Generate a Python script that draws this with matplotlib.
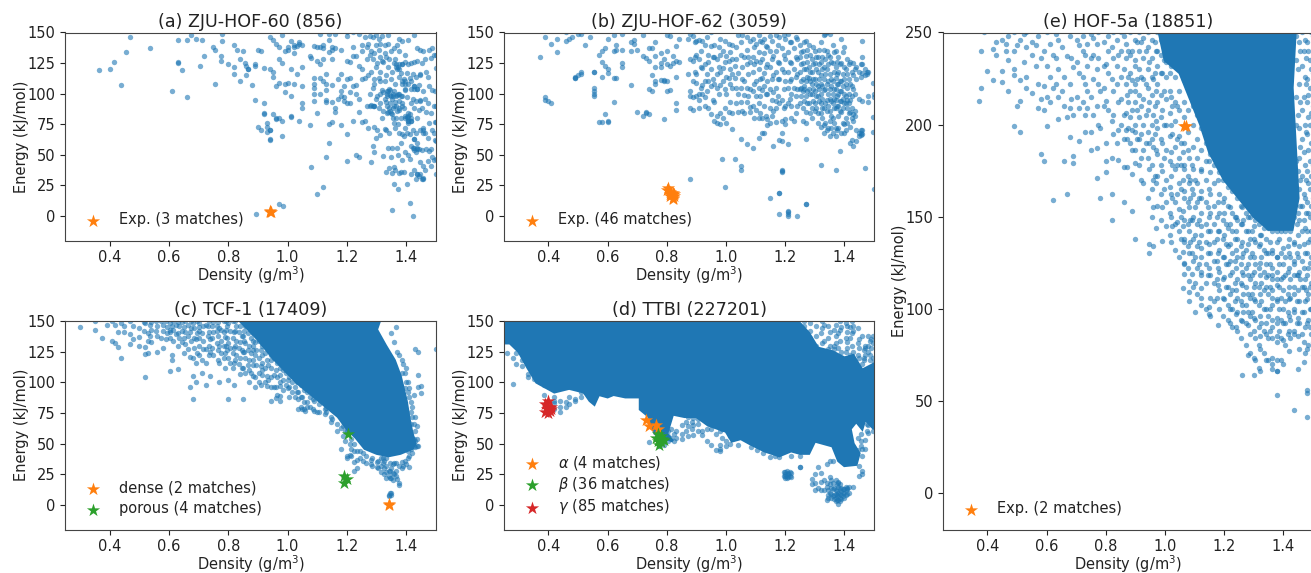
import matplotlib
matplotlib.use("Agg")
import matplotlib.pyplot as plt

# Values: {density: [energies]}.
# The saturated blobs in (c), (d), (e) are drawn as filled outlines.
a_points = {
0.365:[119],0.40:[120],0.415:[126],0.44:[107],0.455:[134],0.47:[146],0.535:[137],0.61:[102],0.63:[144,126,125],0.645:[119],
0.66:[144,97],0.675:[148],0.69:[145],0.705:[123],0.71:[144],0.72:[131],0.75:[138],0.755:[136,108],0.775:[131,127],0.78:[143,149],
0.80:[124],0.82:[140,122,116],0.83:[136],0.84:[128,110],0.85:[135],0.855:[125],0.86:[123,115],0.865:[120,120],0.88:[107],0.89:[95,124,123],
0.895:[2],0.90:[136,73],0.91:[135,70],0.92:[121,92,84,83],0.93:[76,73,69],0.94:[146,120,70,70,63,62],0.95:[144,118,83,114],
0.96:[79,106,141,80],0.97:[80,128,109,138,10],0.98:[148,125,65,78],0.985:[8],0.99:[135,108,101],1.0:[136,109,138],1.01:[143,98,120,82,81],
1.02:[140,108,133,138],1.03:[116,139],1.04:[142,78,141],1.05:[140,122,106,88,92],1.075:[74,131],1.08:[40,129],1.09:[139,108,113,105,100,94],
1.10:[18,84,127,138],1.11:[100,113,124,149,138],1.12:[24,137,110,128,140],1.13:[48,95,93,103,108,116],1.14:[75,60,134,144,149],
1.15:[77,93,107,136,138,128],1.16:[85,88,137,149],1.17:[96,112],1.18:[102,116,74,136,98],1.19:[97,94,106],1.20:[45,67,92,112,127,147,150],
1.21:[92,101,113,126],1.22:[78,106,131,150,138],1.23:[50,100,107,131],1.24:[48,96,85,123,149],1.25:[77,112,140,120,135],
1.262:[78,113,146],1.267:[90,138,128],1.272:[72,115,141],1.277:[90,132,147,100],1.282:[44,91,118,135],1.287:[57,90,105,128,146],1.292:[52,73,108,133],1.297:[64,96,122,140,148],
1.302:[70,98,125],1.307:[88,113,136,145],1.312:[66,92,118,141],1.317:[80,103,127,147],1.322:[49,86,101,126],1.327:[71,96,110,133,140],1.332:[36,70,93,115,130],1.337:[56,85,102,122,141,148],
1.342:[39,68,88,104,128],1.347:[48,84,98,112,135],1.352:[5,35,56,83,96,118],1.357:[26,40,76,90,102,125,137],1.362:[38,72,93,108,128],1.367:[56,86,99,120,140],
1.372:[22,50,75,100,122],1.377:[35,68,87,114,135,145],1.382:[36,60,80,98,117],1.387:[46,67,90,108,124,143],1.392:[36,65,88,112],1.397:[52,72,103,126,132],
1.402:[26,68,81,97,117],1.407:[50,78,84,108,124,144],1.412:[11,47,67,83,113],1.417:[34,57,78,92,125],1.422:[0,56,70,96,116],1.427:[38,63,88,106,126,148],
1.432:[30,52,68,94,114],1.437:[34,60,80,104,127,137],1.442:[33,55,87,107],1.447:[44,70,95,116,136],1.452:[30,54,88,125],1.457:[41,72,102,135],1.462:[38,68,96,128],1.467:[55,85,118],
1.472:[45,64,92,114],1.477:[53,76,106,136],1.482:[41,55,84,129],1.487:[48,70,103,137],1.492:[46,68,90,132],1.497:[62,77,102],1.50:[34,47,61,77,90,121,132],
}
a_more = {
1.29:[90,90,112],1.31:[110,130,100],1.335:[100,102,98,90,84],1.345:[99,103,92,86],1.355:[100,98,88,80],1.365:[122,124,98,90,80],1.375:[120,124,100,94,88],1.385:[124,110,98,92],1.395:[110,108,104,80,82],
1.405:[80,82,78,76],1.415:[80,78,104,110],1.425:[106,104,63,56,54],1.435:[104,56,55,34],1.445:[34,94,115],1.455:[68,70,31,30],
}
b_points = {
0.37:[130],0.39:[146,97,95],0.40:[94],0.41:[92,141],0.43:[145,134],0.46:[143,150],0.47:[145],0.48:[146],0.49:[114,113,113],0.50:[115,149],
0.51:[116,118,149],0.525:[140],0.54:[146],0.555:[118,118,105,102,100,98],0.57:[132,77],0.58:[135,126,114,77],0.59:[137,123,83],0.60:[145,120,117,78,77],
0.62:[148,135,113,93],0.63:[140,136,113],0.65:[149,136,125,122],0.68:[142,135,107],0.69:[144,141],0.70:[136,85],0.72:[148,131,82],0.73:[129,84,85],
0.74:[137,127,104,83],0.75:[137,115,102],0.76:[142,131,122,108,110],0.78:[133,125,122,111],0.79:[128,111,79,110],0.80:[148,135,124,110,102],
0.81:[147,123,103],0.82:[131,125],0.83:[139,127,114,92,87],0.84:[145,126],0.87:[145,116],0.88:[149,128,102,98,88,30],0.89:[147,127,110,87,97],
0.90:[143,132,116,109,98],0.91:[144,128,100,95,88],0.92:[143,121,107,100],0.93:[140,124,110,97,90],0.94:[132,126,110,88],0.95:[150,139,120,106,83],
0.96:[140,130,108,93,78],0.97:[128,116,105,82,76],0.98:[145,132,118,107,84,75],0.985:[47],0.99:[135,121,110,80],0.995:[24],1.0:[131,114,100,76],
1.01:[141,127,113,85],1.02:[140,128,116,105,84,71],1.03:[123,113,47],1.04:[148,117,100,85],1.05:[142,132,105,93,63,41,38],1.06:[130,110,99,84],
1.07:[146,136,124,105,93,59],1.08:[143,126,104,89,85],1.09:[145,130,118,102,90,56],1.10:[141,127,110,98,87],1.11:[148,134,120,105,92,80,64],
1.12:[142,128,113,103,80,68],1.13:[145,133,117,106,90,68],1.14:[138,124,110,100,79,74],1.15:[147,135,122,104,88,76,15],1.16:[131,115,101,86,57],
1.17:[148,135,118,105,94,88,77],1.18:[146,125,112,92,62,19,19,2],1.19:[137,120,95,78,68,61,38,37,36],1.20:[145,128,110,90,79,75],1.21:[149,134,118,105,92,59,4,3,2,0],
1.22:[142,125,112,100,90,80],1.23:[137,120,105,78],1.24:[145,128,116,104,90,0],1.25:[140,130,118,104,92],1.26:[135,125,112,102,88,78],
1.27:[143,131,120,110,98,85,76,63,10,10],1.28:[140,122,113,104,92],1.29:[128,118,108,100,88,80],1.30:[135,125,112,102,92,86],1.31:[130,118,106,98,84,76],
1.32:[142,126,115,108,100,92,84,73,42],1.33:[148,136,122,112,103,88,74,68],1.34:[150,135,120,108,95,86,70],1.35:[149,130,116,104,96,86,78,65],
1.36:[140,125,110,100,92,80,68],1.37:[135,122,113,104,95,88,72,65,38],1.38:[130,118,108,100,90,82,72],1.385:[53],1.39:[145,125,110,102,94,85,68],
1.40:[138,122,112,100,92,75,68],1.41:[128,116,105,95,88,76],1.42:[126,108,95,85,73,60],1.43:[125,115,104,83,78,57],1.44:[122,112,70,61],
1.45:[118,96,68,65],1.46:[143,130,124,117,94,70,67],1.47:[120,115,39],1.48:[118,98,93],1.495:[109,81,69],1.50:[100,97,22],
}
b_more = {
0.895:[130,142,118],0.915:[135,122,105],0.935:[146,116,102],0.955:[130,112,95],0.975:[138,122,100],0.995:[143,126,104,88],1.015:[134,120,108,93],1.035:[138,128,105,92],
1.055:[148,122,112,86],1.075:[130,116,98],1.095:[138,124,108,80],1.115:[143,126,112,98,84],1.135:[139,122,100,82],1.155:[143,128,112,95,82],1.175:[140,126,112,98],
1.195:[148,132,118,104,88],1.215:[142,126,110,96],1.235:[146,130,114,98,84],1.255:[134,124,110,98,105],1.265:[142,120,106,94,104],1.275:[136,126,114,102,92],1.285:[132,118,110,100,84],
1.295:[138,124,112,104,94],1.305:[130,120,108,98,88],1.315:[136,124,112,104,94],1.325:[130,120,106,96,88,80],1.335:[149,128,116,104,92,76],1.345:[132,124,110,100,90,72],
1.355:[126,112,106,94,82,72],1.365:[134,118,104,96,88,76],1.375:[126,116,108,98,90,70],1.385:[124,110,102,94,86],1.395:[134,116,106,96,88,76],1.405:[120,108,98,92,80,70],
1.415:[124,112,100,92,84],1.425:[118,106,98,88,80,62],1.435:[120,100,86,82],1.455:[124,114,70,66,68],1.475:[118,116],
}
c_points = {
0.30:[145],0.35:[143,150],0.375:[136],0.39:[147],0.41:[134,150],0.42:[132,147],0.43:[129,141],0.44:[120,148],0.45:[141,146],0.47:[131,139,150],
0.48:[135,146],0.50:[130,137,144],0.52:[123,129,104,148],0.53:[124,134,140],0.54:[133,143,149],0.56:[125,138,146],0.58:[128,142,147],0.59:[135,150],
0.605:[109,141],0.61:[122,118,146],0.63:[111,130,140,149],0.65:[124,136,145],0.67:[96,121,141],0.68:[86,105,120,148],0.69:[100,116,135],
0.70:[122,130,145],0.71:[108,118,140],0.725:[98,116,127,147],0.74:[105,125,135],0.75:[122,141,149],0.77:[100,116,130,144],0.79:[112,124,137],
0.80:[86,102,120,132,148],0.82:[98,116,128,141],0.84:[107,120,133,146],0.85:[86,112,125,138],0.87:[100,110,118,130,145],0.89:[96,104,122,133,141],
0.91:[98,113,126,138],0.93:[97,105,118,130],0.945:[85,96,122],0.96:[87,96,110,125],0.975:[85,89,97,112],1.0:[95,102],1.03:[92,100],1.05:[78,88],
1.06:[77,95],1.09:[77,85],1.10:[76],1.13:[76,79],1.15:[70],1.18:[46,63],1.20:[38,40,60],1.21:[41,50],1.235:[30,37,44],1.28:[33,37],1.30:[31,35],
1.32:[34,38,128],1.33:[22,27,32,38],1.34:[7,8,28,24],1.35:[8,10,22,30,140],1.36:[25,34,133],1.37:[21,125],1.375:[16,18,32,122],1.39:[32,115],1.40:[33,112,100],
1.41:[31,40,95,88],1.42:[42,50,55,80,72],1.43:[47,52,60,127,72],1.44:[48,106,125,96],1.45:[91,97],1.50:[127],
}
c_more = {
0.515:[142,149],0.535:[147,138],0.555:[142,150],0.575:[136,150],0.595:[145,140],0.615:[134,150,143],0.635:[146,136],0.655:[150,141,131],0.665:[147,138,127],0.685:[144,136,128],
0.695:[150,140,124],0.715:[146,134,127],0.735:[150,141,130,122],0.745:[146,136,128],0.765:[149,138,126,118],0.775:[143,134,124],0.785:[150,141,130,120],0.795:[146,136,126],
0.805:[142,128,116],0.815:[150,136,124,112],0.825:[146,134,122],0.835:[141,128,115],0.845:[150,138,126,112],0.855:[146,132,120,108],0.865:[140,126,114],0.875:[149,136,124,108],
0.885:[144,130,118,105],0.895:[139,126,114],0.905:[147,134,120,108,100],0.915:[142,130,116,106],0.925:[136,124,112,100],0.935:[146,128,114,102],0.945:[140,128,112,104],
0.955:[134,120,106,96],0.965:[128,116,104,90],0.985:[122,110,102,94],0.995:[116,108,98],1.005:[112,104,96,88],1.015:[108,100,92],1.025:[104,96,88],1.035:[100,92,86,78],
1.045:[98,88,80],1.055:[94,84,78],1.065:[92,84,80],1.075:[88,80],1.085:[86,78],1.105:[82,76],1.125:[78,74],1.145:[72,68],1.165:[66,60],1.185:[64,56],1.195:[60,52],
1.215:[54,46,40],1.225:[50,44,35,28],1.245:[44,38],1.255:[42,36],1.265:[40,34],1.285:[38,32],1.305:[36,30],1.315:[38,32,27],1.325:[36,30,25],1.345:[34,28,22,10],1.355:[33,26,20],
1.365:[34,28,24,145],1.385:[35,30,118,108],1.395:[36,108,95],1.405:[44,38,100,92],1.415:[46,58,84,66,76],1.425:[48,54,66,90],1.435:[48,54,64],
0.603:[148,143,136],0.623:[147,139],0.643:[149,142,133],0.673:[150,144,134],0.703:[148,142,136],0.733:[146,138],0.763:[146,142,132],0.793:[150,143,130],0.823:[150,142,130,118],0.853:[149,142,134,125],
0.883:[148,140,134,126,114],0.913:[148,140,132,122,110],0.943:[148,138,132,118],0.973:[135,126,118,106,100],1.003:[130,122,116],1.033:[115,108],
}
c_blob_density = [0.84,1.31,1.30,1.33,1.36,1.38,1.40,1.41,1.42,1.43,1.42,1.38,1.34,1.30,1.26,1.23,1.20,1.17,1.12,1.08,1.03,0.99,0.95,0.90]
c_blob_energy = [150,150,143,130,118,105,85,70,58,50,46,42,40,42,46,55,62,72,82,90,100,110,120,135]
d_points = {
0.26:[124],0.28:[120,99],0.29:[115,124],0.31:[113,118],0.33:[107,104],0.35:[103,106],0.37:[105,100],0.385:[98,101,90],0.42:[88,83,85,78],
0.44:[85,80,76],0.46:[84,80],0.47:[88,82],0.49:[85,86],0.51:[88,92],0.74:[51],0.775:[48],0.79:[49,56],0.83:[55,60],0.85:[54,58,65],0.87:[56,64,72],
0.89:[57,65,71],0.92:[57,60,72],0.95:[49,62,70],0.98:[44,46,49,60],1.0:[48,52],1.04:[49],1.15:[39],1.18:[39,42],
1.20:[27,25,22,24],1.21:[26,23,25],1.22:[26,23,40],1.25:[31,31,40],1.29:[21,17],1.30:[25,12,18],1.31:[31,14],1.32:[12,19,26,140],1.33:[12,20,147,134,122],1.34:[4,15,18,33],
1.35:[10,17,23,36,130,141],1.36:[7,13,18,36],1.365:[5,8,14],1.37:[3,6,9,12,20,132,138,147],1.38:[1,4,7,10,15,19,18,128,120,140],1.39:[5,8,11,14,125,145],1.40:[6,10,13],1.41:[9,13,14,128,141,133,146],
1.42:[122,136,145],1.43:[15,35,42,142,125,146],1.45:[24,32,128,135,120],1.46:[25,28,40,46,138,115],1.47:[46,53,130,122,128],1.48:[138,130,125,75,59,65],1.49:[128,135,112,78,70],1.50:[114,116,108],
}
d_more = {
0.805:[56,60,52],0.815:[55,62],0.825:[52,58],0.865:[60,68],0.885:[62,68],0.905:[60,66,70],0.935:[52,62,68],0.965:[45,58,66],0.985:[55,62],1.015:[50,56],1.085:[47],1.105:[45],1.125:[42],1.165:[40],
1.195:[27,24],1.205:[28,24,22],1.215:[24,27],1.265:[146,150],1.285:[142,148,136],1.305:[138,130,146],1.325:[132,144,150],1.345:[136,146,127,8,12,6],1.355:[6,9,14,20],1.365:[130,143,127],
1.375:[4,8,11,16],1.385:[134,143,150,3,6,9,13,17],1.395:[7,10,13],1.405:[136,148,125,8,12,15],1.415:[10,15],1.425:[130,140,150],1.445:[132,144,122,45,55],1.455:[58,48,52],
1.465:[126,120,118],1.475:[66,74,60],1.485:[118,122,134],1.495:[120,132,138,60],
}
d_blob_density = [0.25,1.16,1.25,1.28,1.31,1.36,1.40,1.43,1.46,1.50,1.50,1.47,1.46,1.44,1.42,1.43,1.45,1.44,1.40,1.38,1.36,1.30,1.28,1.25,1.22,1.18,1.13,1.08,1.05,1.02,1.0,0.94,0.90,0.86,0.82,0.80,0.82,0.76,0.74,0.71,0.71,0.66,0.62,0.60,0.57,0.555,0.54,0.52,0.47,0.42,0.36,0.33,0.30,0.27,0.25]
d_blob_energy = [150,150,148,140,128,125,120,122,110,115,62,70,62,68,62,50,42,33,32,36,48,52,42,42,44,40,44,50,54,52,60,65,72,72,74,58,52,58,72,78,88,88,90,88,90,82,85,92,95,92,100,112,125,132,132]
e_points = {
0.37:[213],0.38:[240,220],0.39:[250],0.40:[229],0.42:[224,241],0.43:[238,245],0.45:[223,229,246],0.47:[218,235,248],0.49:[227,230,199,250,240],0.50:[210,243],
0.51:[196,224,213,246],0.53:[220,226,242,250],0.55:[217,238,245],0.57:[209,222,248],0.58:[184,214,236],0.59:[180,208,221,240],0.60:[199,215,232,250],
0.62:[159,220,238],0.64:[203,215,230,246],0.66:[180,210,226],0.67:[162,204,237],0.68:[193,209,222,248],0.69:[179,183,205,231],0.71:[191,209,228,243],
0.73:[196,205,222,238],0.75:[186,196,215,236,249],0.77:[171,187,210,230,244],0.78:[160,198,218],0.80:[180,174,190,213,233],0.82:[162,148,182,202,225,242],
0.84:[181,212,197,238],0.86:[158,177,192,205,230,248],0.87:[177,192,216],0.89:[153,173,186,197,208,224,240],0.90:[138,179,200,218,235],0.92:[170,182,195,210,226,245],
0.945:[130,135,176,190,212,234],0.96:[134,155,170,188,205,225],0.97:[144,168,186,202,218,240],0.99:[137,155,175,190,208,228],1.02:[136,150,162,172,185,200,215,232],
1.04:[147,162,178,192,210],1.06:[111,131,145,153,170,185],1.065:[119,125,136,160,178],1.08:[104,109,115,130,142,155,168,182],1.09:[119,130,148,165,178],
1.10:[98,114,128,140,155,170],1.12:[106,111,120,133,145,160,175],1.15:[97,101,122,135,150,165,180],1.18:[91,113,122,130,142,158,170],1.20:[105,117,128,140,152,160],
1.22:[92,100,108,118,126,135,146,155],1.24:[90,97,110,122,132,142,150],1.26:[64,93,102,113,120,128,136,146,155],1.28:[75,91,98,108,118,124,135,142,150],
1.30:[64,73,88,95,105,112,120,128,138,145],1.32:[66,78,85,96,108,118,125,135,140],1.34:[72,86,92,100,112,117,124,130,138],1.36:[67,73,90,102,110,118,122,132],
1.38:[53,66,72,85,95,105,113,120,128,136],1.40:[70,83,92,100,110,117,124,133],1.42:[77,88,96,105,112,122,130,138],1.435:[45,86,100,108,118,126,135],
1.45:[67,85,95,110,118,128,140,152,175,205,230],1.47:[71,82,98,112,122,135,148,162,185,215,240],1.48:[41,54,56,78,92,105,118,130,142,158,175,195,212,225,245],
1.49:[90,100,112,125,138,150,165,180,200,220,235],1.50:[75,82,95,108,120,135,148,160,178,190,210,228,248],
}
e_more = {
0.463:[244,240],0.523:[234,249],0.563:[232,243],0.613:[244,226,212],0.633:[249,236,222],0.653:[242,218],0.683:[236,214],0.703:[234,246,215],0.723:[240,226,212,248],0.737:[244,232,218,209],
0.757:[247,238,225,205],0.773:[250,236,222,200],0.793:[245,232,220,210],0.807:[248,240,228,208],0.823:[250,236,218,205,195],0.837:[246,232,222,190],0.853:[250,240,226,214,200],
0.867:[244,236,222,206,197],0.883:[250,238,228,218,204,190],0.897:[246,232,222,212,196,186],0.913:[250,240,230,216,204,192,178],0.927:[247,236,225,214,200,186,168],
0.943:[250,242,230,220,208,196,182,160],0.957:[246,236,226,216,200,192,178,150,165],0.973:[250,240,232,222,212,198,184,172,156],0.987:[246,238,228,216,204,192,178,162,148],
1.003:[244,234,226,214,200,186,170,158,145],1.017:[240,228,218,206,194,180,166,152,140],1.033:[236,226,212,202,188,176,158,146,132],1.047:[230,218,208,194,182,168,154,142,128],
1.063:[224,212,204,190,176,164,148,138,124],1.077:[220,208,196,186,172,158,146,134,122],1.093:[210,200,188,176,162,150,138,126,112],1.107:[205,192,182,168,158,146,134,122,108],
1.123:[198,186,176,164,152,140,128,118,102],1.137:[190,180,170,158,146,136,124,114,100],1.153:[184,174,162,152,142,130,118,106,96],1.167:[178,168,156,146,136,126,114,104],
1.183:[174,162,152,142,132,120,110,100],1.197:[170,158,148,138,128,116,106,96],1.213:[166,156,144,134,124,112,102,94],1.227:[164,152,142,130,120,110,100,90],
1.243:[160,148,138,128,116,106,98,88],1.257:[156,146,134,124,114,104,94,84],1.273:[152,142,132,122,112,102,92,80],1.287:[150,138,128,116,106,96,86,76],
1.303:[148,136,124,114,104,94,84,72],1.317:[146,134,122,112,102,90,80,68],1.333:[144,132,120,110,100,88,76],1.347:[144,130,118,108,96,84,72],1.363:[142,130,116,106,94,84,70],
1.377:[142,128,116,104,92,82,66],1.393:[142,130,116,106,94,84,72],1.407:[142,128,118,104,92,80],1.423:[142,128,116,106,94,84],1.437:[150,136,124,112,98,88],
1.453:[245,222,198,182,165,148,134,120,104,92,78],1.463:[250,232,208,192,172,156,142,126,112,98,86],1.473:[246,226,200,178,160,144,130,116,104,90,76],1.483:[240,216,204,186,168,152,136,122,108,94,80],
1.493:[250,230,206,190,172,156,142,128,114,100,86],1.443:[248,235,215,200,180,164],1.457:[240,212,188,170,156,116],1.477:[236,222,196,170,152,110],
1.205:[146,135,124,112],1.235:[150,138,126,114,104],1.265:[148,130,118,108,98],1.295:[142,130,118,108,98],1.325:[140,128,114,104,92],1.355:[136,124,112,100,88],1.385:[138,124,112,100,88],1.415:[134,120,108,98,86],
1.445:[146,130,118,104,92],1.175:[150,138,126,116,106],1.145:[155,142,130,118],1.115:[160,148,136,124],1.085:[170,160,148,136],1.055:[190,178,165,150,138],1.025:[210,195,178,160,145],
0.995:[235,218,200,182,165],0.965:[245,228,210,195,172],0.935:[240,222,205,190],0.905:[245,225,208,192],0.875:[240,226,212,198],
}
e_blob_density = [0.98,1.44,1.43,1.44,1.45,1.43,1.35,1.30,1.26,1.20,1.15,1.12,1.09,1.05,1.0]
e_blob_energy = [250,250,220,190,160,143,143,150,158,170,185,200,212,228,235]
a_exp = ([0.94,0.945,0.94],[3,3,4])
b_exp = ([0.805,0.81,0.82,0.815,0.80,0.825,0.81,0.82,0.815,0.825,0.81,0.82],[23,20,19,17,21,18,16,14,19,16,18,15])
c_dense = ([1.34,1.34],[0,1])
c_porous = ([1.205,1.19,1.2,1.19],[58,24,21,18])
d_alpha = ([0.73,0.74,0.765,0.77],[69,64,65,62])
d_beta = ([0.77,0.775,0.78,0.785,0.77,0.78,0.775,0.79,0.765],[58,54,51,54,52,56,49,53,55])
d_gamma = ([0.39,0.40,0.41,0.40,0.395,0.405,0.40,0.39,0.41],[82,85,80,75,78,77,80,76,78])
e_exp = ([1.065,1.07],[199,199])
titles = ["(a) ZJU-HOF-60 (856)","(b) ZJU-HOF-62 (3059)","(c) TCF-1 (17409)","(d) TTBI (227201)","(e) HOF-5a (18851)"]

BLUE, FIG_W, FIG_H = "#1f77b4", 1311, 573
plt.rcParams.update({"font.family":"DejaVu Sans","font.size":10.5,"axes.titlesize":12.6,"axes.edgecolor":"#444444",
                     "axes.labelsize":10.5,"text.color":"#222222","axes.labelcolor":"#222222","xtick.color":"#222222","ytick.color":"#222222"})
fig = plt.figure(figsize=(FIG_W/100, FIG_H/100), dpi=100)

def make_axes(l, r, t, b, top):
    ax = fig.add_axes([l/FIG_W, 1-b/FIG_H, (r-l)/FIG_W, (b-t)/FIG_H])
    ax.set_xlim(0.25,1.5); ax.set_ylim(-20,top)
    ax.set_xticks([0.4,0.6,0.8,1.0,1.2,1.4])
    ax.set_yticks(list(range(0,top+1,50 if top==250 else 25)))
    ax.set_xlabel("Density (g/m$^3$)",labelpad=-0.5); ax.set_ylabel("Energy (kJ/mol)",labelpad=-1)
    return ax

def draw(ax, groups, title, stars, blob=None, spacing=0.4):
    xs = [d for g in groups for d,es in g.items() for _ in es]
    ys = [e for g in groups for es in g.values() for e in es]
    if blob:
        ax.fill(blob[0], blob[1], color=BLUE, lw=2, zorder=1)
    ax.scatter(xs, ys, s=15, color=BLUE, alpha=0.6, lw=0, zorder=2)
    for (sx,sy),c,lab in stars:
        ax.scatter(sx, sy, marker="*", s=100, color=c, lw=0, label=lab, zorder=3)
    ax.set_title(title,pad=4)
    ax.legend(frameon=False,loc="lower left",labelspacing=spacing,handletextpad=0.8)

OR,GR,RD = "#ff7f0e","#2ca02c","#d62728"
draw(make_axes(65,436,32.5,240.5,150),[a_points,a_more],titles[0],[(a_exp,OR,"Exp. (3 matches)")])
draw(make_axes(504,874,32.5,240.5,150),[b_points,b_more],titles[1],[(b_exp,OR,"Exp. (46 matches)")])
draw(make_axes(65,436,321,529.5,150),[c_points,c_more],titles[2],[(c_dense,OR,"dense (2 matches)"),(c_porous,GR,"porous (4 matches)")],(c_blob_density,c_blob_energy))
draw(make_axes(504,874,321,529.5,150),[d_points,d_more],titles[3],[(d_alpha,OR,r"$\alpha$ (4 matches)"),(d_beta,GR,r"$\beta$ (36 matches)"),(d_gamma,RD,r"$\gamma$ (85 matches)")],(d_blob_density,d_blob_energy),spacing=0.22)
draw(make_axes(943,1313,32.5,529.5,250),[e_points,e_more],titles[4],[(e_exp,OR,"Exp. (2 matches)")],(e_blob_density,e_blob_energy))
fig.savefig("out.png",dpi=100)
